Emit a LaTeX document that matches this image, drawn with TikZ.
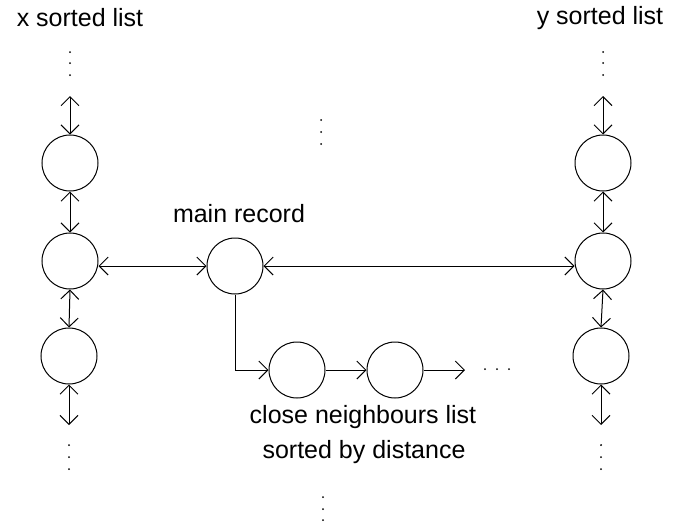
\documentclass[tikz,border=0pt]{standalone}
\usepackage{fontspec}
\setmainfont{Liberation Sans}
\usetikzlibrary{arrows.meta}
\tikzset{
  rec/.style={draw, circle, minimum size=56pt, inner sep=0pt, line width=1pt},
  conn/.style={line width=1pt, arrows={-Straight Barb[length=9pt,width=18pt,line width=1pt]}},
  dconn/.style={line width=1pt, arrows={Straight Barb[length=9pt,width=18pt,line width=1pt]-Straight Barb[length=9pt,width=18pt,line width=1pt]}},
  lbl/.style={font=\fontsize{25}{28}\selectfont, inner sep=0pt},
  dot/.style={fill=black, minimum size=2pt, inner sep=0pt, circle}
}
\begin{document}
\begin{tikzpicture}[x=1pt,y=-1pt]
\useasboundingbox (0,0) rectangle (673,525);
% labels
\node[lbl] (xl) at (80,18) {x sorted list};
\node[lbl] (yl) at (600,18) {y sorted list};
\node[lbl] (ml) at (239,214) {main record};
\node[lbl] (cl1) at (363,417) {close neighbours list};
\node[lbl] (cl2) at (364,452) {sorted by distance};
% left column
\node[rec] (L1) at (70,163) {};
\node[rec] (L2) at (70,261) {};
\node[rec] (L3) at (69,356) {};
% right column
\node[rec] (R1) at (603,163) {};
\node[rec] (R2) at (603,261) {};
\node[rec] (R3) at (601,356) {};
% main
\node[rec] (M) at (235,266) {};
% neighbours
\node[rec] (N1) at (297,370) {};
\node[rec] (N2) at (395,370) {};
% free ends
\coordinate (Ltop) at (70,96);
\coordinate (Lbot) at (69,425);
\coordinate (Rtop) at (603,96);
\coordinate (Rbot) at (601,425);
\coordinate (Nend) at (465,370);
% vertical connectors
\draw[dconn] (Ltop) -- (L1.north);
\draw[dconn] (L1.south) -- (L2.north);
\draw[dconn] (L2.south) -- (L3.north);
\draw[dconn] (L3.south) -- (Lbot);
\draw[dconn] (Rtop) -- (R1.north);
\draw[dconn] (R1.south) -- (R2.north);
\draw[dconn] (R2.south) -- (R3.north);
\draw[dconn] (R3.south) -- (Rbot);
% horizontal connectors
\draw[dconn] (L2.east |- M.west) -- (M.west);
\draw[dconn] (M.east) -- (R2.west |- M.east);
\draw[conn] (M.south) |- (N1.west);
\draw[conn] (N1.east) -- (N2.west);
\draw[conn] (N2.east) -- (Nend);
% dots
\foreach \y [count=\i] in {52,63,75} {
  \node[dot] (ltd\i) at (70,\y) {};
  \node[dot] (rtd\i) at (603,\y) {};
}
\foreach \y [count=\i] in {445,457,469} {
  \node[dot] (lbd\i) at (69,\y) {};
  \node[dot] (rbd\i) at (601,\y) {};
}
\foreach \y [count=\i] in {120,132,144} {
  \node[dot] (md\i) at (321,\y) {};
}
\foreach \y [count=\i] in {497,509,520} {
  \node[dot] (bd\i) at (323,\y) {};
}
\foreach \x [count=\i] in {485,497,509} {
  \node[dot] (hd\i) at (\x,369) {};
}
\end{tikzpicture}
\end{document}
